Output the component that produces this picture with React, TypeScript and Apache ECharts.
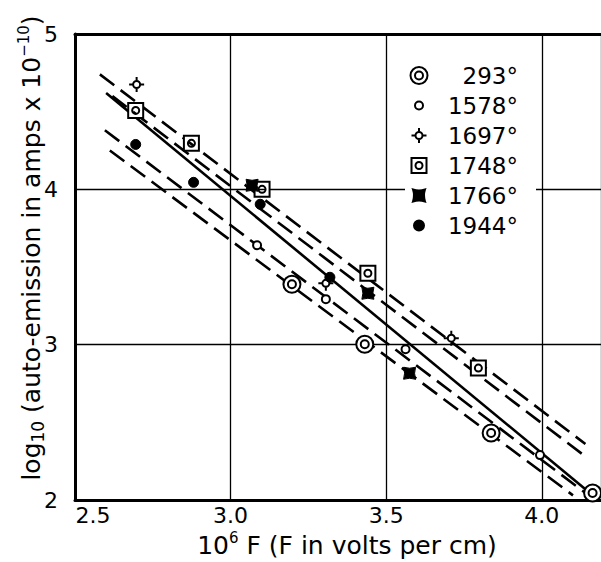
import React, { useEffect, useRef } from 'react';
import * as echarts from 'echarts';

// ---- data ----
const xTickValues = [2.5, 3.0, 3.5, 4.0];
const yTickValues = [2, 3, 4, 5];
const seriesNames = ['293°', '1578°', '1697°', '1748°', '1766°', '1944°'];

const pts293 = [[3.197, 3.389], [3.431, 3.003], [3.837, 2.431], [4.163, 2.045]];
const pts1578 = [[3.085, 3.64], [3.306, 3.293], [3.562, 2.971], [3.994, 2.289]];
const pts1697 = [[2.698, 4.675], [3.306, 3.395], [3.709, 3.042]];
const pts1748 = [[2.695, 4.508], [2.874, 4.296], [3.101, 4.0], [3.441, 3.46], [3.796, 2.849]];
const pts1766 = [[3.069, 4.026], [3.441, 3.331], [3.575, 2.816]];
const pts1944 = [[2.695, 4.289], [2.881, 4.045], [3.095, 3.904], [3.319, 3.434]];

const lineSolid = [[2.6, 4.62], [4.17, 2.02]];
const lineDashA = [[2.58, 4.74], [4.14, 2.36]];
const lineDashB = [[2.62, 4.6], [4.14, 2.28]];
const lineDashC = [[2.596, 4.38], [4.15, 2.03]];
const lineDashD = [[2.612, 4.25], [4.1, 2.03]];

// ---- symbols (all in a 20x20 frame) ----
const FRAME = 'M-10,-10M10,10';
const circ = (r: number) => `M${-r},0A${r},${r} 0 1,0 ${r},0A${r},${r} 0 1,0 ${-r},0Z`;
const SYM_DOUBLE = 'path://' + FRAME + circ(8.5) + circ(4);
const SYM_SMALL = 'path://' + FRAME + circ(4);
const SYM_STAR = 'path://' + FRAME + circ(3.5) + 'M0,-7.5L0,-3.5M0,3.5L0,7.5M-7.5,0L-3.5,0M3.5,0L7.5,0';
const SYM_SQUARE = 'path://' + FRAME + 'M-7.5,-7.5L7.5,-7.5L7.5,7.5L-7.5,7.5Z' + circ(3.5);
const SYM_BOW = 'path://' + FRAME + 'M-6,-6Q0,-4 6,-6Q4,0 6,6Q0,4 -6,6Q-4,0 -6,-6Z';
const SYM_DOT = 'path://' + FRAME + circ(5);

const FONT = 'DejaVu Sans';

export default function App() {
  const ref = useRef<HTMLDivElement>(null);
  useEffect(() => {
    if (!ref.current) return;
    const chart = echarts.init(ref.current, undefined, { renderer: 'svg' });

    const open = { color: '#fff', borderColor: '#000', borderWidth: 2, opacity: 1 };
    const filled = { color: '#000', borderColor: '#000', borderWidth: 1, opacity: 1 };
    const scatter = (name: string, data: number[][], symbol: string, style: any) => ({
      type: 'scatter', name, data, symbol, symbolSize: 20, itemStyle: style, z: 5, silent: true,
    });
    const fit = (data: number[][], dashed: boolean) => ({
      type: 'line', data, symbol: 'none', silent: true, z: 2,
      lineStyle: { color: '#000', width: 2.6, type: dashed ? [18, 8] : 'solid' },
    });

    chart.setOption({
      animation: false,
      backgroundColor: '#fff',
      grid: { left: 75, right: -3, top: 34, bottom: 62 },
      xAxis: [
        {
          type: 'value', min: 2.5, max: 4.19, interval: 0.5,
          axisLine: { lineStyle: { color: '#000', width: 3 } },
          axisTick: { show: false },
          splitLine: { lineStyle: { color: '#000', width: 1.3 } },
          axisLabel: {
            color: '#000', fontSize: 22, fontFamily: FONT, margin: 4, showMaxLabel: false,
            formatter: (v: number) => (xTickValues.includes(v) ? (v === 2.5 ? '{f|2.5}' : v.toFixed(1)) : ''),
            rich: { f: { fontSize: 22, fontFamily: FONT, color: '#000', padding: [0, 0, 0, 36] } },
          },
        },
        {
          type: 'value', min: 2.5, max: 4.19, position: 'top',
          axisLine: { show: true, lineStyle: { color: '#000', width: 3 } },
          axisTick: { show: false }, axisLabel: { show: false }, splitLine: { show: false },
        },
      ],
      yAxis: {
        type: 'value', min: 2, max: 5, interval: 1,
        axisLine: { show: true, lineStyle: { color: '#000', width: 3 } },
        axisTick: { show: false },
        splitLine: { lineStyle: { color: '#000', width: 1.3 } },
        axisLabel: {
          color: '#000', fontSize: 22, fontFamily: FONT, margin: 17,
          formatter: (v: number) => (yTickValues.includes(v) ? String(v) : ''),
        },
      },
      legend: {
        data: seriesNames,
        orient: 'vertical', left: 405, top: 55,
        padding: [9, 18, 4, 3],
        backgroundColor: '#fff',
        itemWidth: 20, itemHeight: 20, itemGap: 7, itemTextGap: 5,
        selectedMode: false,
        formatter: (n: string) => `{t|${n}}`,
        textStyle: {
          rich: { t: { width: 84, align: 'right', fontSize: 23, lineHeight: 22, fontFamily: FONT, color: '#000' } },
        },
      },
      graphic: [
        {
          type: 'text', x: 347, y: 545,
          style: {
            text: '{a|10}{s|6}{a| F (F in volts per cm)}',
            align: 'center', verticalAlign: 'middle',
            rich: {
              a: { fontSize: 25, lineHeight: 30, fontFamily: FONT, color: '#000' },
              s: { fontSize: 15, lineHeight: 15, verticalAlign: 'top', fontFamily: FONT, color: '#000' },
            },
          },
        },
        {
          type: 'text', x: 31, y: 248, rotation: Math.PI / 2,
          style: {
            text: '{a|log}{b|10}{a| (auto-emission in amps x 10}{s|−10}{a|)}',
            align: 'center', verticalAlign: 'middle',
            rich: {
              a: { fontSize: 25, lineHeight: 30, fontFamily: FONT, color: '#000' },
              b: { fontSize: 17, lineHeight: 17, verticalAlign: 'bottom', fontFamily: FONT, color: '#000' },
              s: { fontSize: 15, lineHeight: 15, verticalAlign: 'top', fontFamily: FONT, color: '#000' },
            },
          },
        },
      ],
      series: [
        fit(lineDashA, true),
        fit(lineDashB, true),
        fit(lineSolid, false),
        fit(lineDashC, true),
        fit(lineDashD, true),
        scatter(seriesNames[0], pts293, SYM_DOUBLE, open),
        scatter(seriesNames[1], pts1578, SYM_SMALL, open),
        scatter(seriesNames[2], pts1697, SYM_STAR, open),
        scatter(seriesNames[3], pts1748, SYM_SQUARE, open),
        scatter(seriesNames[4], pts1766, SYM_BOW, filled),
        scatter(seriesNames[5], pts1944, SYM_DOT, filled),
      ],
    });
    return () => chart.dispose();
  }, []);
  return <div ref={ref} style={{ position: 'absolute', left: 0, top: 0, width: 601, height: 562 }} />;
}
